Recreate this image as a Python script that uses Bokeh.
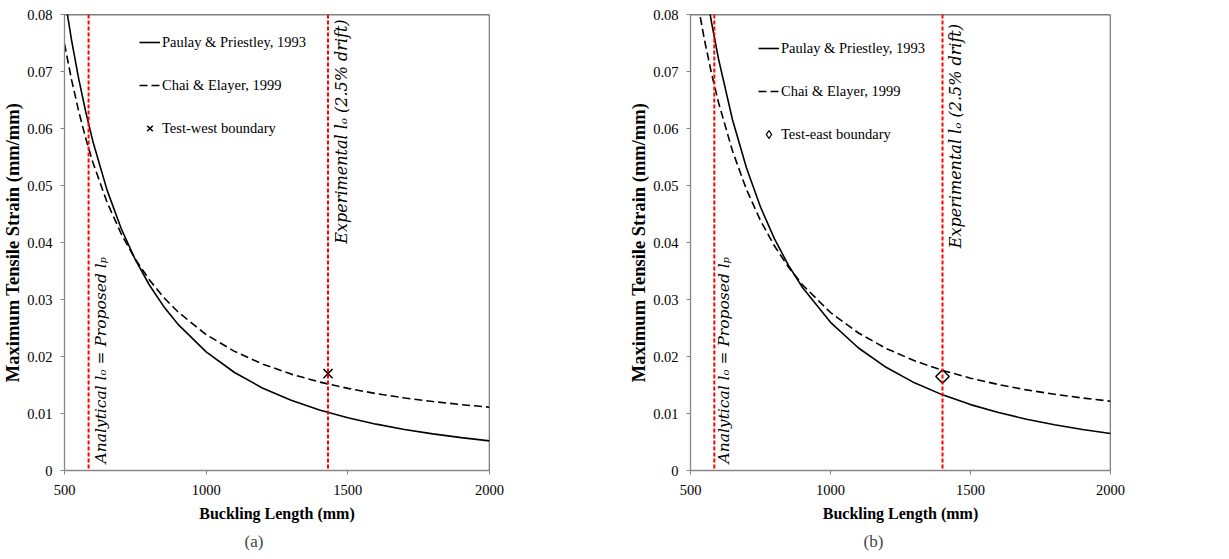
import math
from bokeh.plotting import figure
from bokeh.models import Span, Legend, LegendItem, FixedTicker, Title
from bokeh.layouts import row
from bokeh.core.properties import value
from bokeh.embed import file_html
from bokeh.resources import INLINE

# ---------------- data ----------------
buckling_length = [500, 525, 550, 575, 600, 650, 700, 750, 800, 850, 900, 1000,
                   1100, 1200, 1300, 1400, 1500, 1600, 1700, 1800, 1900, 2000]

# panel (a) - west
paulay_a = [0.0832, 0.07547, 0.06876, 0.06291, 0.05778, 0.04923, 0.04245, 0.03698,
            0.0325, 0.02879, 0.02568, 0.0208, 0.01719, 0.01444, 0.01231, 0.01061,
            0.00924, 0.00813, 0.0072, 0.00642, 0.00576, 0.0052]
chai_a = [0.07485, 0.06853, 0.06305, 0.05827, 0.05407, 0.04709, 0.04154, 0.03707,
          0.03341, 0.03038, 0.02784, 0.02385, 0.0209, 0.01866, 0.01691, 0.01552,
          0.01441, 0.01349, 0.01273, 0.0121, 0.01156, 0.0111]
test_a_x = [1430]
test_a_y = [0.017]
analytical_lo_a = 585
experimental_lo_a = 1430

# panel (b) - east
paulay_b = [0.104, 0.09433, 0.08595, 0.07864, 0.07222, 0.06154, 0.05306, 0.04622,
            0.04063, 0.03599, 0.0321, 0.026, 0.02149, 0.01806, 0.01538, 0.01327,
            0.01156, 0.01016, 0.009, 0.00802, 0.0072, 0.0065]
chai_b = [0.08992, 0.08221, 0.07552, 0.06969, 0.06457, 0.05605, 0.04929, 0.04384,
          0.03938, 0.03568, 0.03258, 0.02771, 0.02412, 0.02138, 0.01925, 0.01756,
          0.0162, 0.01508, 0.01415, 0.01338, 0.01272, 0.01216]
test_b_x = [1400]
test_b_y = [0.0165]
analytical_lo_b = 585
experimental_lo_b = 1400

x_ticks = [500, 1000, 1500, 2000]
y_ticks = [0, 0.01, 0.02, 0.03, 0.04, 0.05, 0.06, 0.07, 0.08]
y_tick_labels = ["0", "0.01", "0.02", "0.03", "0.04", "0.05", "0.06", "0.07", "0.08"]

label_paulay = "Paulay & Priestley, 1993"
label_chai = "Chai & Elayer, 1999"
text_analytical = "Analytical  l\u2092 = Proposed l\u209a"
text_experimental = "Experimental  l\u2092 (2.5% drift)"

SERIF = "Liberation Serif"
GREY = "#868686"


def build(width, left, right, paulay, chai, tx, ty, marker, marker_size,
          marker_label, lo_an, lo_ex, ex_y, an_dx, ex_dx, leg_xy, caption, cap_off):
    p = figure(width=width, height=559, output_backend="svg", toolbar_location=None,
               x_range=(500, 2000), y_range=(0, 0.08),
               min_border_left=left, min_border_right=right,
               min_border_top=14, min_border_bottom=89)
    p.grid.visible = False
    p.outline_line_color = None
    p.background_fill_color = "white"
    p.border_fill_color = "white"

    # axes
    p.xaxis.ticker = FixedTicker(ticks=x_ticks)
    p.yaxis.ticker = FixedTicker(ticks=y_ticks)
    p.yaxis.major_label_overrides = {t: l for t, l in zip(y_ticks, y_tick_labels)}
    for ax in (p.xaxis[0], p.yaxis[0]):
        ax.axis_line_color = GREY
        ax.axis_line_width = 1.3
        ax.major_tick_line_color = GREY
        ax.major_tick_in = 0
        ax.major_tick_out = 4
        ax.minor_tick_line_color = None
        ax.major_label_text_font = SERIF
        ax.major_label_text_font_size = "14.5px"
        ax.major_label_text_color = "black"
        ax.axis_label_text_font = SERIF
        ax.axis_label_text_font_style = "bold"
        ax.axis_label_text_color = "black"
    p.xaxis.axis_label = "Buckling Length (mm)"
    p.xaxis.axis_label_text_font_size = "16px"
    p.xaxis.major_label_standoff = 10
    p.xaxis.axis_label_standoff = 7
    p.yaxis.axis_label = "Maximum Tensile Strain (mm/mm)"
    p.yaxis.axis_label_text_font_size = "18.5px"
    p.yaxis.major_label_standoff = 8
    p.yaxis.axis_label_standoff = 1

    # top / right border
    p.add_layout(Span(location=0.08, dimension="width", line_color="black", line_width=1.3))
    p.add_layout(Span(location=2000, dimension="height", line_color="black", line_width=1.3))

    # red dashed reference lines
    for loc in (lo_an, lo_ex):
        p.add_layout(Span(location=loc, dimension="height", line_color="#FF0000",
                          line_dash="4 2", line_width=2))

    r1 = p.line(buckling_length, paulay, line_color="black", line_width=1.6)
    r2 = p.line(buckling_length, chai, line_color="black", line_width=1.6, line_dash="8 4")
    if marker == "x":
        r3 = p.scatter(tx, ty, marker="x", size=marker_size, line_color="black",
                       line_width=1.5)
        leg3 = r3
    else:
        p.scatter(tx, ty, marker="square", size=marker_size, angle=math.pi / 4,
                  line_color="black", fill_color="white", line_width=1.5)
        # hidden diamond renderer used only as the legend swatch
        leg3 = p.scatter(tx, ty, marker="diamond", size=11, line_color="black",
                         fill_color="white", line_width=1.3, visible=False)

    # rotated annotations
    p.text(x=[lo_an], y=[0.0], text=[text_analytical], angle=math.pi / 2,
           text_font=value("DejaVu Serif"), text_font_style="italic",
           text_font_size="15.5px", text_align="left", text_baseline="middle",
           x_offset=an_dx, y_offset=-7, text_color="black")
    p.text(x=[lo_ex], y=[ex_y], text=[text_experimental], angle=math.pi / 2,
           text_font=value("DejaVu Serif"), text_font_style="italic",
           text_font_size="16px", text_align="left", text_baseline="middle",
           x_offset=ex_dx, y_offset=0, text_color="black")

    legend = Legend(items=[LegendItem(label=label_paulay, renderers=[r1]),
                           LegendItem(label=label_chai, renderers=[r2]),
                           LegendItem(label=marker_label, renderers=[leg3])],
                    location=leg_xy, padding=0, margin=0, spacing=23,
                    glyph_width=21, glyph_height=20, label_height=20,
                    label_standoff=2, border_line_color=None,
                    background_fill_alpha=0, inactive_fill_alpha=0,
                    label_text_font=SERIF, label_text_font_size="14.5px",
                    label_text_color="black")
    p.add_layout(legend)

    p.add_layout(Title(text=caption, align="left", offset=cap_off,
                       text_font=SERIF, text_font_size="17px",
                       text_font_style="normal", standoff=10), "below")
    return p


pa = build(610, 62, 121, paulay_a, chai_a, test_a_x, test_a_y, "x", 13,
           "Test-west boundary", analytical_lo_a, experimental_lo_a, 0.0398, 12, 13,
           (75, 332), "(a)", 180)
pb = build(619, 80, 119, paulay_b, chai_b, test_b_x, test_b_y, "diamond", 9.5,
           "Test-east boundary", analytical_lo_b, experimental_lo_b, 0.039, 10, 13,
           (68, 326), "(b)", 173)

layout = row(pa, pb)
open("out.html", "w").write(file_html(layout, INLINE))
